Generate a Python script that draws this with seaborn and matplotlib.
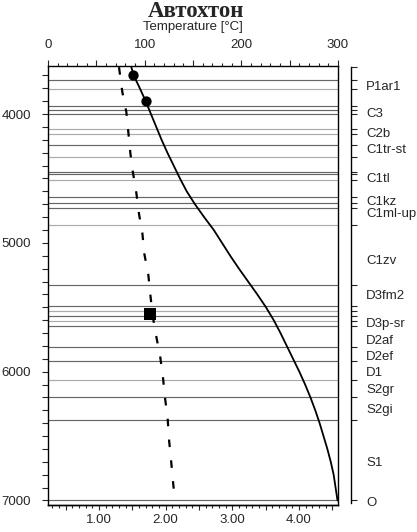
import matplotlib
matplotlib.use("Agg")
import matplotlib.pyplot as plt
import seaborn as sns
from matplotlib.ticker import FixedLocator, MultipleLocator, FuncFormatter, NullFormatter

# ---- data ----
temp_depth = [3630, 3698, 3800, 3899, 4000, 4100, 4200, 4300, 4400, 4500, 4600, 4700,
              4800, 4900, 5000, 5100, 5200, 5300, 5400, 5500, 5600, 5700, 5800, 5900,
              6000, 6100, 6200, 6300, 6400, 6500, 6600, 6700, 6800, 6900, 7000]
temp_values = [86, 88.5, 95, 101, 106.5, 112, 117.5, 123.5, 130, 136.5, 143.5, 152,
               161.5, 171.5, 180, 188.5, 197.5, 207, 216.5, 225.5, 233.5, 240.5, 247, 253.5,
               260, 266, 271.5, 276.5, 281, 285, 289, 292.5, 295.5, 297.5, 299.5]

circle_depth = [3698, 3899]
circle_temp = [88, 101]

grad_depth = [3636, 3829, 3984, 4140, 4302, 4457, 4612, 4775, 4922, 5085, 5248,
              5403, 5581, 5729, 5891, 6047, 6202, 6364, 6527, 6682, 6853, 7008]
grad_values = [1.30, 1.35, 1.41, 1.44, 1.47, 1.51, 1.56, 1.60, 1.65, 1.68, 1.74,
               1.77, 1.81, 1.86, 1.92, 1.96, 1.99, 2.03, 2.05, 2.08, 2.11, 2.14]

square_depth = [5550]
square_value = [1.77]

boundary_depth = [3736, 3806, 3936, 3969, 4002, 4116, 4153, 4241, 4334, 4448, 4466,
                  4510, 4642, 4689, 4727, 4862, 5328, 5490, 5529, 5568, 5607, 5646,
                  5805, 5917, 6061, 6197, 6375, 7000]
boundary_shade = ["dark", "light", "dark", "dark", "dark", "light", "light", "dark",
                  "light", "dark", "dark", "light", "dark", "dark", "dark", "light",
                  "dark", "dark", "light", "dark", "light", "dark", "dark", "dark",
                  "light", "dark", "dark", "dark"]

formation_names = ["P1ar1", "C3", "C2b", "C1tr-st", "C1tl", "C1kz", "C1ml-up", "C1zv",
                   "D3fm2", "D3p-sr", "D2af", "D2ef", "D1", "S2gr", "S2gi", "S1", "O"]
formation_label_depth = [3775, 3990, 4140, 4264, 4489, 4675, 4768, 5126,
                         5397, 5622, 5747, 5878, 5995, 6127, 6282, 6701, 7004]

top_ticks = [0, 100, 200, 300]
bottom_ticks = [1.0, 2.0, 3.0, 4.0]
depth_ticks = [4000, 5000, 6000, 7000]

title_text = "Автохтон"
top_label = "Temperature [°C]"

# ---- style ----
sns.set_style("white")
plt.rcParams["font.family"] = ["Liberation Sans", "DejaVu Sans"]

W, H = 417, 532
fig = plt.figure(figsize=(W / 100, H / 100), dpi=100)
fig.patch.set_facecolor("white")
ax = fig.add_axes([48 / W, 27 / H, 290 / W, 439 / H])
ax_b = ax.twiny()
ax_f = ax.twinx()

YLIM = (7035, 3627)

shade_color = {"dark": "#666666", "light": "#ababab"}
for d, s in zip(boundary_depth, boundary_shade):
    ax.axhline(d, color=shade_color[s], lw=0.85, zorder=1)

sns.lineplot(x=temp_values, y=temp_depth, sort=False, estimator=None,
             color="black", lw=1.3, ax=ax, zorder=3)
sns.scatterplot(x=circle_temp, y=circle_depth, marker="o", s=55, color="black",
                edgecolor="black", linewidth=0, ax=ax, zorder=4)

sns.lineplot(x=grad_values, y=grad_depth, sort=False, estimator=None,
             color="black", lw=1.6, ax=ax_b, zorder=3)
for ln in ax_b.lines:
    ln.set_dashes((3.4, 6.0))
sns.scatterplot(x=square_value, y=square_depth, marker="s", s=80, color="black",
                edgecolor="black", linewidth=0, ax=ax_b, zorder=4)

# ---- main axis (temperature on top, depth on left) ----
ax.set_xlim(0, 300)
ax.set_ylim(*YLIM)
ax.xaxis.tick_top()
ax.xaxis.set_major_locator(FixedLocator(list(range(0, 301, 50))))
ax.xaxis.set_major_formatter(FuncFormatter(lambda v, p: f"{int(round(v))}" if int(round(v)) in top_ticks else ""))
ax.xaxis.set_minor_locator(MultipleLocator(10))
ax.tick_params(axis="x", which="major", direction="out", length=4.0, width=0.8,
               pad=7, labelsize=9.5, top=True, bottom=False, labeltop=True, labelbottom=False)
ax.tick_params(axis="x", which="minor", direction="out", length=2.5, width=0.8,
               top=True, bottom=False)
ax.yaxis.tick_left()
ax.yaxis.set_major_locator(FixedLocator(depth_ticks))
ax.yaxis.set_minor_locator(MultipleLocator(100))
ax.tick_params(axis="y", which="both", direction="out", length=4.3, width=0.8,
               pad=8, labelsize=9.5, left=True, right=False, labelleft=True, labelright=False)
ax.set_xlabel("")
ax.set_ylabel("")
for sp in ax.spines.values():
    sp.set_visible(True)
    sp.set_color("black")
    sp.set_linewidth(1.0)

# ---- bottom axis (dashed series) ----
ax_b.set_xlim(0.235, 4.585)
ax_b.set_ylim(*YLIM)
ax_b.xaxis.tick_bottom()
ax_b.xaxis.set_major_locator(FixedLocator([0.5, 1.0, 1.5, 2.0, 2.5, 3.0, 3.5, 4.0, 4.5]))
ax_b.xaxis.set_major_formatter(FuncFormatter(lambda v, p: f"{v:.2f}" if round(v, 2) in bottom_ticks else ""))
ax_b.xaxis.set_minor_locator(FixedLocator([x / 10 for x in range(3, 46)]))
ax_b.tick_params(axis="x", which="major", direction="out", length=3.6, width=0.8,
                 pad=3, labelsize=9.5, top=False, bottom=True, labelbottom=True, labeltop=False)
ax_b.tick_params(axis="x", which="minor", direction="out", length=2.5, width=0.8,
                 top=False, bottom=True)
ax_b.set_xlabel("")
ax_b.set_ylabel("")
for name, sp in ax_b.spines.items():
    sp.set_visible(name == "bottom")
    sp.set_linewidth(1.0)
    sp.set_color("black")

# ---- formation axis on the right ----
ax_f.set_ylim(*YLIM)
for name, sp in ax_f.spines.items():
    sp.set_visible(name == "right")
ax_f.spines["right"].set_position(("outward", 9.4))
ax_f.spines["right"].set_bounds(3635, 7018)
ax_f.spines["right"].set_linewidth(1.0)
ax_f.spines["right"].set_color("black")
ax_f.yaxis.tick_right()
ax_f.yaxis.set_major_locator(FixedLocator([3635] + boundary_depth))
ax_f.yaxis.set_major_formatter(NullFormatter())
ax_f.yaxis.set_minor_locator(FixedLocator(formation_label_depth))
ax_f.yaxis.set_minor_formatter(FuncFormatter(lambda v, p: formation_names[p] if p is not None and p < len(formation_names) else ""))
ax_f.tick_params(axis="y", which="major", direction="out", length=4.3, width=0.8,
                 right=True, left=False)
ax_f.tick_params(axis="y", which="minor", length=0, pad=11, labelsize=9.5,
                 right=True, left=False, labelright=True)
ax_f.tick_params(axis="x", which="both", top=False, bottom=False, labeltop=False, labelbottom=False)
ax_f.set_xlabel("")
ax_f.set_ylabel("")

# ---- texts ----
fig.text(193 / W, 1 - 27 / H, top_label, ha="center", va="center", fontsize=9.5)
fig.text(196 / W, 1 - 17 / H, title_text, ha="center", va="baseline", fontsize=16.5,
         fontweight="bold", family=["Liberation Serif", "DejaVu Serif"])

fig.savefig("out.png", dpi=100, facecolor="white")
